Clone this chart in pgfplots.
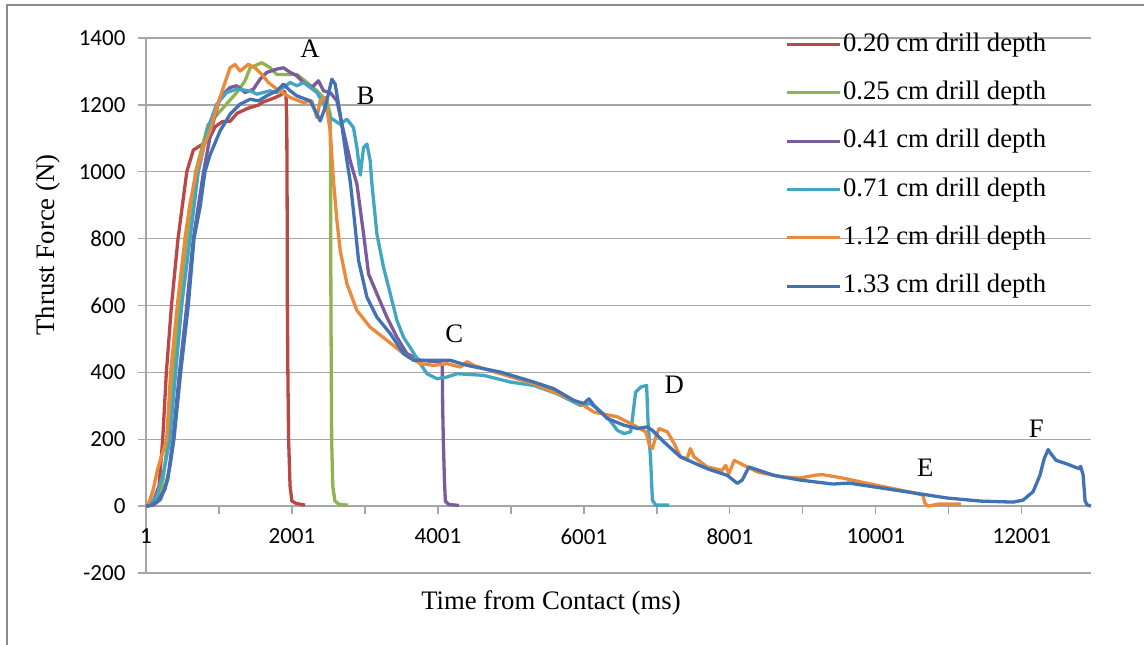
\documentclass[border=0pt]{standalone}
\usepackage{fontspec}
\setmainfont{Liberation Serif}
\newfontfamily\tickfont{Carlito}
\usepackage{pgfplots}
\pgfplotsset{compat=1.18}
\definecolor{cRed}{HTML}{BA4844}
\definecolor{cGreen}{HTML}{8FB34E}
\definecolor{cPurple}{HTML}{7A5C9E}
\definecolor{cAqua}{HTML}{42A6C2}
\definecolor{cOrange}{HTML}{EA8A3A}
\definecolor{cBlue}{HTML}{4173B4}
\definecolor{gridgray}{HTML}{A6A6A6}
\definecolor{framegray}{HTML}{8C8C8C}
\newcommand{\bigserif}{\fontsize{26.7}{30}\selectfont}
\newcommand{\tickf}{\tickfont\fontsize{23}{25}\selectfont}
\begin{document}
\begin{tikzpicture}[x=1pt,y=1pt]
\path[use as bounding box] (0,0) rectangle (1144,645);
\draw[framegray, line width=2pt] (7,-5) -- (7,640) -- (1150,640);
\begin{axis}[
  at={(146pt,72pt)}, anchor=south west,
  scale only axis, width=945pt, height=535pt,
  xmin=1, xmax=12950, ymin=-200, ymax=1400,
  axis x line=middle, axis y line=left,
  hide obscured x ticks=false, hide obscured y ticks=false,
  scaled x ticks=false, scaled y ticks=false,
  axis line style={-, draw=gridgray, line width=1.3pt},
  tick align=outside,
  major tick length=8pt, minor tick length=8pt,
  tick style={draw=gridgray, line width=1.3pt},
  xtick={1,2001,4001,6001,8001,10001,12001},
  xticklabels={1,2001,4001,6001,8001,10001,12001},
  minor xtick={1001,3001,5001,7001,9001,11001},
  ytick={-200,0,200,400,600,800,1000,1200,1400},
  yticklabels={-200,0,200,400,600,800,1000,1200,1400},
  ticklabel style={font=\tickf, text=black},
  xticklabel style={yshift=-11pt},
  yticklabel style={xshift=-9pt},
  ymajorgrids, grid style={draw=gridgray, line width=1.3pt},
  clip=false,
  every axis plot/.append style={line width=3.3pt, line join=round, no markers},
  legend style={at={(rel axis cs:0.676,1.015)}, anchor=north west, draw=none, fill=none,
    inner sep=0pt, row sep=19.3pt, font=\bigserif,
    nodes={inner sep=2pt, text height=19pt, text depth=6pt}},
  legend cell align=left,
  legend image code/.code={\draw[#1, line width=3pt] (0pt,0pt) -- (53pt,0pt);},
]
\addplot[cRed] coordinates {(1,0)(100,15)(180,60)(230,200)(280,400)(350,600)(440,800)(560,1000)(650,1065)(760,1080)(870,1100)(950,1135)(1050,1150)(1150,1150)(1250,1175)(1400,1190)(1550,1200)(1600,1208)(1750,1220)(1850,1230)(1900,1240)(1920,1225)(1930,1150)(1935,900)(1938,600)(1945,400)(1955,200)(1975,60)(2000,15)(2060,8)(2180,3)};
\addlegendentry{0.20 cm drill depth}
\addplot[cGreen] coordinates {(1,0)(120,10)(220,50)(300,200)(370,400)(450,600)(560,800)(680,1000)(850,1140)(1057,1191)(1245,1237)(1359,1272)(1428,1311)(1588,1326)(1702,1311)(1794,1291)(2069,1291)(2206,1267)(2343,1242)(2480,1212)(2525,1172)(2530,1000)(2535,600)(2545,200)(2560,60)(2590,15)(2650,5)(2771,3)};
\addlegendentry{0.25 cm drill depth}
\addplot[cPurple] coordinates {(1,0)(100,3)(200,20)(300,80)(370,200)(460,400)(560,600)(650,800)(790,1000)(900,1130)(1016,1222)(1153,1252)(1245,1257)(1359,1237)(1473,1247)(1565,1277)(1656,1297)(1794,1307)(1884,1311)(1977,1297)(2068,1287)(2159,1267)(2274,1252)(2364,1272)(2433,1242)(2525,1237)(2617,1212)(2707,1122)(2799,1033)(2891,963)(2982,814)(3051,694)(3165,635)(3302,565)(3440,505)(3577,456)(3759,436)(4034,431)(4061,420)(4066,300)(4075,200)(4090,80)(4103,15)(4150,5)(4286,2)};
\addlegendentry{0.41 cm drill depth}
\addplot[cAqua] coordinates {(1,0)(80,5)(165,40)(250,110)(329,200)(407,400)(490,600)(604,800)(718,1000)(850,1130)(970,1202)(1107,1237)(1245,1247)(1428,1242)(1519,1232)(1702,1242)(1794,1237)(1884,1252)(1977,1267)(2068,1257)(2159,1267)(2251,1252)(2343,1237)(2433,1202)(2525,1162)(2662,1142)(2754,1157)(2844,1132)(2891,1072)(2937,990)(2982,1072)(3028,1083)(3073,1033)(3097,963)(3165,814)(3256,714)(3348,635)(3440,555)(3530,505)(3645,466)(3759,426)(3851,396)(3988,381)(4126,386)(4263,396)(4628,391)(4994,371)(5314,361)(5635,336)(5955,301)(6092,307)(6321,267)(6458,227)(6550,217)(6641,222)(6664,257)(6710,341)(6779,356)(6861,361)(6879,257)(6916,137)(6940,18)(6985,3)(7168,3)};
\addlegendentry{0.71 cm drill depth}
\addplot[cOrange] coordinates {(1,0)(50,15)(100,50)(160,110)(284,200)(339,400)(430,600)(535,800)(600,900)(690,1000)(800,1080)(878,1122)(970,1192)(1061,1252)(1153,1311)(1221,1321)(1290,1301)(1404,1321)(1495,1311)(1588,1291)(1678,1267)(1794,1247)(1977,1222)(2159,1207)(2274,1212)(2343,1162)(2388,1212)(2456,1222)(2525,1122)(2570,973)(2617,854)(2662,764)(2754,665)(2891,585)(3073,535)(3302,496)(3530,456)(3759,426)(3942,421)(4126,426)(4308,416)(4400,432)(4500,420)(4858,396)(5315,366)(5590,341)(5955,307)(6140,281)(6459,267)(6687,242)(6850,222)(6900,182)(6940,172)(6985,207)(7031,232)(7146,222)(7238,187)(7325,147)(7416,142)(7460,172)(7512,147)(7691,117)(7897,107)(7943,122)(7988,97)(8061,137)(8150,127)(8380,102)(8700,88)(8960,84)(9187,93)(9275,94)(9549,84)(9865,69)(10537,39)(10647,33)(10674,9)(10715,0)(10853,6)(11168,6)};
\addlegendentry{1.12 cm drill depth}
\addplot[cBlue] coordinates {(1,0)(60,2)(160,15)(261,50)(330,120)(384,200)(476,400)(580,600)(659,800)(741,893)(809,1000)(878,1050)(1016,1122)(1153,1172)(1290,1202)(1428,1217)(1542,1212)(1656,1227)(1794,1242)(1884,1262)(1977,1242)(2068,1227)(2251,1212)(2343,1172)(2388,1152)(2456,1192)(2548,1277)(2593,1262)(2662,1172)(2754,1033)(2800,970)(2850,870)(2914,734)(3028,625)(3165,565)(3348,516)(3530,456)(3668,436)(3943,436)(4172,436)(4400,421)(4858,401)(5315,371)(5589,351)(5864,316)(6001,307)(6070,321)(6138,301)(6322,262)(6550,242)(6733,232)(6870,237)(6938,227)(7097,192)(7325,147)(7691,112)(7966,92)(8103,68)(8171,78)(8262,117)(8605,92)(8835,83)(8960,78)(9413,66)(9632,69)(10084,54)(10537,39)(10990,24)(11443,15)(11882,12)(12019,18)(12156,43)(12252,93)(12307,141)(12362,169)(12403,156)(12472,137)(12609,127)(12787,112)(12808,119)(12842,93)(12869,15)(12897,4)(12950,0)};
\addlegendentry{1.33 cm drill depth}
\node[font=\bigserif] at (axis cs:2250,1367) {A};
\node[font=\bigserif] at (axis cs:3010,1227) {B};
\node[font=\bigserif] at (axis cs:4226,516) {C};
\node[font=\bigserif] at (axis cs:7240,364) {D};
\node[font=\bigserif] at (axis cs:10680,116) {E};
\node[font=\bigserif] at (axis cs:12200,232) {F};
\end{axis}
\node[font=\bigserif] at (551,42) {Time from Contact (ms)};
\node[font=\bigserif, rotate=90] at (48,400) {Thrust Force (N)};
\end{tikzpicture}
\end{document}
